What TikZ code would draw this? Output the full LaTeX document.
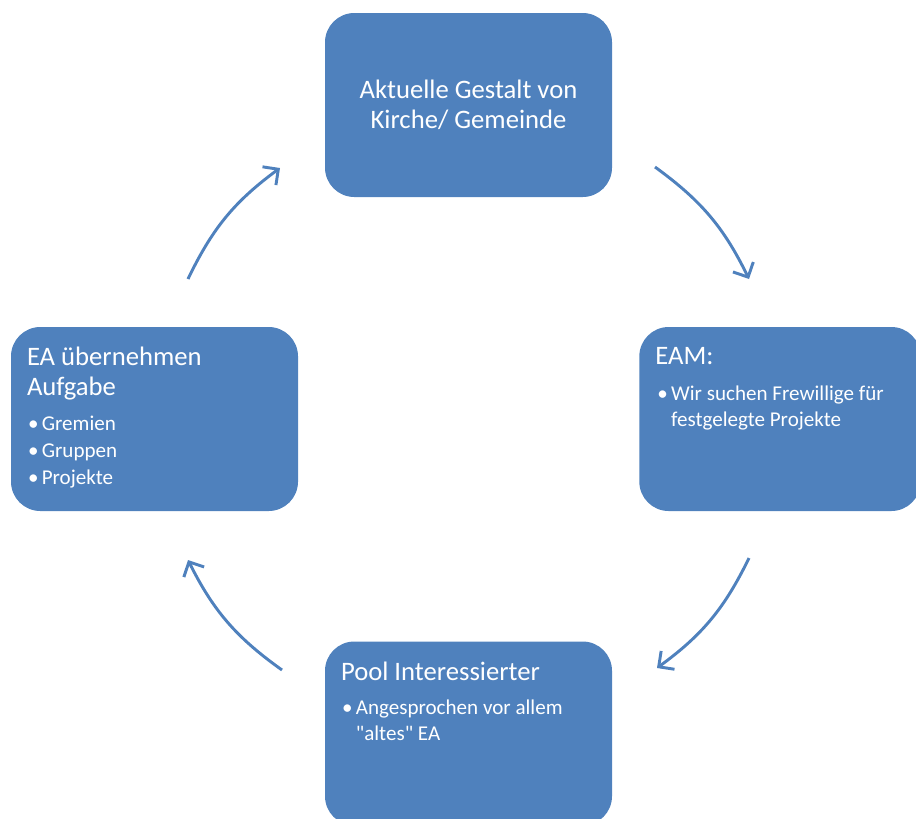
\documentclass[tikz,border=0pt]{standalone}
\usepackage{fontspec}
\setmainfont{Carlito}
\newfontfamily\plainfont{Carlito}
\usetikzlibrary{arrows.meta, positioning, calc}
\definecolor{boxblue}{HTML}{4F81BD}
\newcommand{\bul}{\textbullet\hspace{2.5pt}}

\begin{document}
\begin{tikzpicture}[x=0.75pt, y=-0.75pt]
    % Styles
    \tikzset{
        stage/.style = {rectangle, fill=boxblue, rounded corners=22pt, minimum width=215.25pt, minimum height=138pt, inner sep=0pt},
        head/.style  = {text=white, font=\fontsize{20}{22.5}\selectfont, align=left, inner sep=0pt, anchor=north west},
        items/.style = {text=white, font=\fontsize{15.8}{19.5}\selectfont, align=left, inner sep=0pt, anchor=north west},
        cycle/.style = {draw=boxblue, line width=2.2pt, -{Straight Barb[length=8.5pt, width=17pt, line width=2.2pt]}}
    }
    \useasboundingbox (0,0) rectangle (916,818);
    \clip (0,0) rectangle (916,818);

    % Die vier Stationen
    \node [stage] (kirche) at (468.5,105) {};
    \node [stage, minimum width=211pt] (eam) at (780,419) {};
    \node [stage] (pool) at (468.5,733.5) {};
    \node [stage] (aufgabe) at (154.5,419) {};

    % Texte
    \node [head, anchor=center, align=center] (kirchetext) at (kirche.center) {Aktuelle Gestalt von\\Kirche/ Gemeinde};

    \node [head] (eamhead) at ([shift={(16,20)}]eam.north west) {EAM:};
    \node [items] (eamitems) at ([shift={(18,59)}]eam.north west)
        {\bul Wir suchen Frewillige für\\\phantom{\bul}festgelegte Projekte};

    \node [head] (poolhead) at ([shift={(16,20)}]pool.north west) {Pool Interessierter};
    \node [items] (poolitems) at ([shift={(17,58)}]pool.north west)
        {\bul Angesprochen vor allem\\\phantom{\bul}{\plainfont"altes"} EA};

    \node [head] (aufgabehead) at ([shift={(16,20)}]aufgabe.north west) {EA übernehmen\\Aufgabe};
    \node [items, font=\fontsize{15.8}{20.2}\selectfont] (aufgabeitems) at ([shift={(17,89)}]aufgabe.north west)
        {\bul Gremien\\\bul Gruppen\\\bul Projekte};

    % Pfeilenden
    \coordinate (k1) at (655,167);
    \coordinate (e1) at (749,279);
    \coordinate (e2) at (749,558);
    \coordinate (p1) at (657,668);
    \coordinate (p2) at (282,670);
    \coordinate (a1) at (188,560);
    \coordinate (a2) at (188,279);
    \coordinate (k2) at (280,168);

    % Kreislauf
    \draw [cycle] (k1) to[bend left=14] (e1);
    \draw [cycle] (e2) to[bend left=14] (p1);
    \draw [cycle] (p2) to[bend left=14] (a1);
    \draw [cycle] (a2) to[bend left=14] (k2);
\end{tikzpicture}
\end{document}
